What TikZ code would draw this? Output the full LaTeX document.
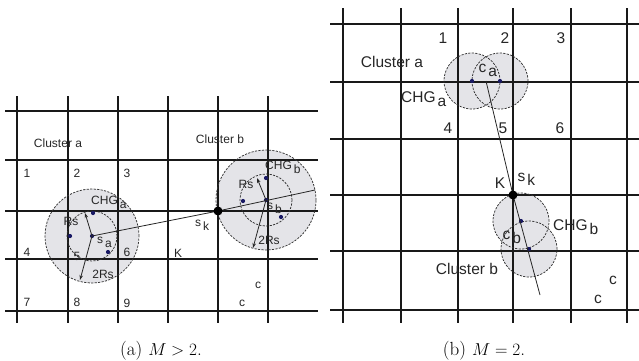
\documentclass[tikz,border=0pt]{standalone}
\usepackage{fontspec}
\setsansfont{Liberation Sans}
\usetikzlibrary{arrows.meta}
\definecolor{cfill}{RGB}{228,228,232}
\definecolor{dotblue}{RGB}{25,25,100}
\definecolor{gridc}{RGB}{25,25,25}
\newcommand{\lowsub}[2]{#1\hspace{2pt}\raisebox{-4pt}{#2}}
\begin{document}
\begin{tikzpicture}[x=1pt,y=-1pt,
  gridline/.style={draw=gridc,line width=1.4pt},
  region/.style={fill=cfill},
  rim/.style={draw=black!80,line width=0.75pt,dash pattern=on 2.2pt off 1.3pt},
  member/.style={circle,fill=dotblue,inner sep=0pt,minimum size=4.2pt},
  hub/.style={circle,fill=black,inner sep=0pt,minimum size=9pt},
  link/.style={draw=black!85,line width=0.8pt},
  radarrow/.style={draw=black!85,line width=0.8pt,-{Stealth[length=5pt,width=3.5pt]}},
  lbl/.style={font=\sffamily\fontsize{12}{12}\selectfont,inner sep=0pt,text=black!85},
  lblR/.style={font=\sffamily\fontsize{15.5}{15.5}\selectfont,inner sep=0pt,text=black!85},
  captext/.style={font=\fontsize{19}{21}\selectfont,inner sep=0pt,anchor=base}]
\useasboundingbox (0,0) rectangle (639,360);

% ---------------- panel (a) ----------------
\coordinate (sac) at (92,236);
\coordinate (sbc) at (266,200);
\coordinate (skc) at (218,211);
\fill[region] (sac) circle[radius=47pt];
\fill[region] (sbc) circle[radius=50pt];
\foreach \x in {17,68,118,168,218,268} \draw[gridline] (\x,96) -- (\x,323);
\foreach \y in {111,160,211,259,311} \draw[gridline] (5,\y) -- (318,\y);
\draw[rim] (sac) circle[radius=47pt];
\draw[rim] (sac) circle[radius=25pt];
\draw[rim] (sbc) circle[radius=50pt];
\draw[rim] (sbc) circle[radius=26pt];

\node[member] (sa) at (sac) {};
\node[member] (a1) at (93,213) {};
\node[member] (a2) at (70,236) {};
\node[member] (a3) at (108,252) {};
\node[member] (sb) at (sbc) {};
\node[member] (b1) at (266,178) {};
\node[member] (b2) at (243,201) {};
\node[member] (b3) at (281,217) {};

\coordinate (ebL) at (315,190);
\coordinate (raA) at (85,213);
\coordinate (rrA) at (80,280);
\coordinate (raB) at (257,178);
\coordinate (rrB) at (253,248);
\draw[link] (sa.center) -- (skc) -- (ebL);
\draw[radarrow] (sa.center) -- (raA);
\draw[radarrow] (sa.center) -- (rrA);
\draw[radarrow] (sb.center) -- (raB);
\draw[radarrow] (sb.center) -- (rrB);
\node[hub] (skL) at (skc) {};

\node[lbl] (clA) at (58,143) {Cluster a};
\node[lbl] (clB) at (220,139) {Cluster b};
\node[lbl] (n1) at (27,173) {1};
\node[lbl] (n2) at (77,173) {2};
\node[lbl] (n3) at (127,173) {3};
\node[lbl] (n4) at (27,252) {4};
\node[lbl] (n5) at (77,256) {5};
\node[lbl] (n6) at (127,252) {6};
\node[lbl] (n7) at (27,302) {7};
\node[lbl] (n8) at (77,302) {8};
\node[lbl] (n9) at (127,303) {9};
\node[lbl,anchor=base west] (chgA) at (91,204.5) {\lowsub{CHG}{a}};
\node[lbl,anchor=base west] (chgB) at (265,169.5) {\lowsub{CHG}{b}};
\node[lbl,anchor=base west] (saL) at (97,243.5) {\lowsub{s}{a}};
\node[lbl,anchor=base west] (skLab) at (195,226.5) {\lowsub{s}{k}};
\node[lbl,anchor=base west] (sbL) at (267,209.5) {\lowsub{s}{b}};
\node[lbl] (rsA) at (71,221) {Rs};
\node[lbl] (rrsA) at (103,274) {2Rs};
\node[lbl] (rsB) at (246,184) {Rs};
\node[lbl] (rrsB) at (269,240) {2Rs};
\node[lbl] (kL) at (178,253) {K};
\node[lbl] (c1L) at (258,285) {c};
\node[lbl] (c2L) at (242,303) {c};

% ---------------- panel (b) ----------------
\coordinate (ca1) at (472,81);
\coordinate (ca2) at (500,81);
\coordinate (cb1) at (521,221);
\coordinate (cb2) at (529,249);
\coordinate (cam) at (486,81);
\coordinate (skRc) at (513,195);
\coordinate (ebR) at (540,295);
\fill[region] (ca1) circle[radius=28pt];
\fill[region] (ca2) circle[radius=28pt];
\fill[region] (cb1) circle[radius=28pt];
\fill[region] (cb2) circle[radius=28pt];
\foreach \x in {343,401,458,513,571,627} \draw[gridline] (\x,8) -- (\x,323);
\foreach \y in {24,82,139,195,251,310} \draw[gridline] (330,\y) -- (639,\y);
\draw[rim] (ca1) circle[radius=28pt];
\draw[rim] (ca2) circle[radius=28pt];
\draw[rim] (cb1) circle[radius=28pt];
\draw[rim] (cb2) circle[radius=28pt];
\node[member] (ma1) at (ca1) {};
\node[member] (ma2) at (ca2) {};
\node[member] (mb1) at (cb1) {};
\node[member] (mb2) at (cb2) {};
\draw[link] (cam) -- (skRc) -- (ebR);
\node[hub] (skR) at (skRc) {};

\node[lblR] (clAR) at (392,62) {Cluster a};
\node[lblR,anchor=base west] (chgAR) at (401,102.5) {\lowsub{CHG}{a}};
\node[lblR] (m1) at (443,38) {1};
\node[lblR] (m2) at (505,38) {2};
\node[lblR] (m3) at (561,38) {3};
\node[lblR] (m4) at (448,128) {4};
\node[lblR] (m5) at (503,128) {5};
\node[lblR] (m6) at (560,128) {6};
\node[lblR,anchor=base west] (caR) at (478.5,72) {\lowsub{c}{a}};
\node[lblR] (kR) at (500,183) {K};
\node[lblR,anchor=base west] (skRlab) at (517.5,181) {\lowsub{s}{k}};
\node[lblR,anchor=base west] (cbR) at (502.5,239) {\lowsub{c}{b}};
\node[lblR,anchor=base west] (chgBR) at (553,230.5) {\lowsub{CHG}{b}};
\node[lblR] (clBR) at (467,269) {Cluster b};
\node[lblR] (c1R) at (613,280) {c};
\node[lblR] (c2R) at (598,299) {c};

% ---------------- captions ----------------
\node[captext] (capA) at (161,355) {(a)\hspace{6pt}$M>2$.};
\node[captext] (capB) at (484,355) {(b)\hspace{6pt}$M=2$.};
\end{tikzpicture}
\end{document}
